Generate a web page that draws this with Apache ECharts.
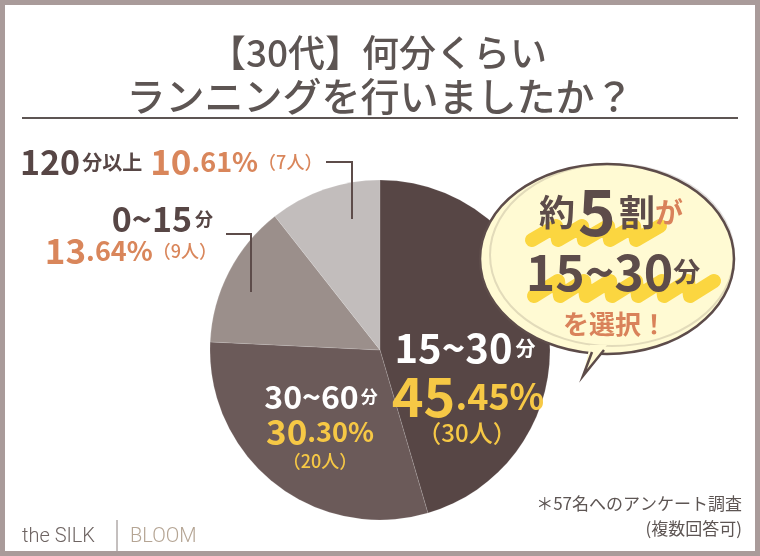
<!DOCTYPE html>
<html><head><meta charset="utf-8">
<script src="https://cdn.jsdelivr.net/npm/echarts@6/dist/echarts.min.js"></script>
<style>html,body{margin:0;padding:0;background:#fff}#c{width:760px;height:556px}</style>
</head><body><div id="c"></div>
<script>
const categories = ['15~30分', '30~60分', '0~15分', '120分以上'];
const counts = [30, 20, 9, 7];
const percents = ['45.45', '30.30', '13.64', '10.61'];
const sliceColors = ['#574645', '#6b5a59', '#9b8f8b', '#c2bdbc'];

const F = '"Noto Sans CJK JP", "Noto Sans", sans-serif';
const DARK = '#574645', ORANGE = '#d9865b', YELLOW = '#f6c845', WHITE = '#ffffff';

function splitPct(p){ const i = p.indexOf('.'); return [p.slice(0,i), p.slice(i)]; }

function richText(x, y, text, rich, align, z){
  return {type:'text', x:x, y:y, z:z||20, style:{text:text, rich:rich, align:align||'left', verticalAlign:'middle', font:'700 20px '+F}};
}

const chart = echarts.init(document.getElementById('c'));
const g = [];

// frame
g.push({type:'rect', z:50, shape:{x:2.5,y:2.5,width:755,height:551}, style:{fill:'none', stroke:'#a99b9a', lineWidth:5}});
// title
g.push({type:'text', z:20, x:378, y:53, style:{text:'【30代】何分くらい', font:'500 37px '+F, fill:'#5d5553', align:'center', verticalAlign:'middle'}});
g.push({type:'text', z:20, x:380, y:96, style:{text:'ランニングを行いましたか？', font:'500 39px '+F, fill:'#5d5553', align:'center', verticalAlign:'middle'}});
g.push({type:'line', z:20, shape:{x1:22,y1:118,x2:738,y2:118}, style:{stroke:'#5d5553', lineWidth:2}});

// leader lines
g.push({type:'polyline', z:15, shape:{points:[[326,162],[352,162],[352,219]]}, style:{stroke:'#5d4c4a', lineWidth:2, fill:'none'}});
g.push({type:'polyline', z:15, shape:{points:[[226,234],[251,234],[251,292]]}, style:{stroke:'#5d4c4a', lineWidth:2, fill:'none'}});

// outer labels
const p120 = splitPct(percents[3]);
g.push(richText(20, 162, '{a|120}{b|分以上}{s| }{c|'+p120[0]+'}{d|'+p120[1]+'%}{e|（'+counts[3]+'人）}', {
  a:{font:'700 34px '+F, fill:DARK},
  b:{font:'700 20px '+F, fill:DARK, padding:[0,0,0,2]},
  s:{font:'700 20px '+F, fill:DARK, width:8},
  c:{font:'700 35px '+F, fill:ORANGE},
  d:{font:'700 27px '+F, fill:ORANGE},
  e:{font:'500 18px '+F, fill:ORANGE}
}));
g.push(richText(213, 219, '{a|0~15}{b|分}', {
  a:{font:'700 34px '+F, fill:DARK},
  b:{font:'700 18px '+F, fill:DARK, padding:[0,0,0,3]}
}, 'right'));
const p015 = splitPct(percents[2]);
g.push(richText(217, 251, '{c|'+p015[0]+'}{d|'+p015[1]+'%}{e|（'+counts[2]+'人）}', {
  c:{font:'700 35px '+F, fill:ORANGE},
  d:{font:'700 27px '+F, fill:ORANGE},
  e:{font:'500 18px '+F, fill:ORANGE}
}, 'right'));

// inside labels
const p1530 = splitPct(percents[0]);
g.push(richText(465, 348, '{a|15~30}{b|分}', {a:{font:'700 40px '+F, fill:WHITE}, b:{font:'700 20px '+F, fill:WHITE, padding:[0,0,0,3]}}, 'center'));
g.push(richText(468, 396, '{a|'+p1530[0]+'}{b|'+p1530[1]+'%}', {a:{font:'700 54px '+F, fill:YELLOW}, b:{font:'700 36px '+F, fill:YELLOW}}, 'center'));
g.push(richText(467, 433, '{a|（'+counts[0]+'人）}', {a:{font:'500 24px '+F, fill:YELLOW}}, 'center'));
const p3060 = splitPct(percents[1]);
g.push(richText(321, 397, '{a|30~60}{b|分}', {a:{font:'700 32px '+F, fill:WHITE}, b:{font:'700 17px '+F, fill:WHITE, padding:[0,0,0,2]}}, 'center'));
g.push(richText(320, 432, '{a|'+p3060[0]+'}{b|'+p3060[1]+'%}', {a:{font:'700 35px '+F, fill:YELLOW}, b:{font:'700 27px '+F, fill:YELLOW}}, 'center'));
g.push(richText(320, 461, '{a|（'+counts[1]+'人）}', {a:{font:'500 18px '+F, fill:YELLOW}}, 'center'));

// speech bubble
g.push({type:'ellipse', z:30, shape:{cx:607, cy:259, rx:127, ry:95}, style:{fill:'#fffad3', stroke:'#5d4c4a', lineWidth:2.5}});
g.push({type:'ellipse', z:30, shape:{cx:612, cy:255, rx:122, ry:91}, style:{fill:'none', stroke:'rgba(93,76,74,0.18)', lineWidth:2}});
g.push({type:'polygon', z:31, shape:{points:[[590,345],[583,375],[607,345]]}, style:{fill:'#fffad3'}});
g.push({type:'polyline', z:31, shape:{points:[[592,352],[583,376],[604,350]]}, style:{stroke:'#5d4c4a', lineWidth:2.5, fill:'none'}});
// highlighter strokes
function band(x0, x1, yb, h){
  const pts = [];
  for (let x = x0; x <= x1; x += 26) { pts.push([x, yb]); pts.push([x + 24, yb - h]); }
  return {type:'polyline', z:32, shape:{points:pts}, style:{stroke:'#fbd640', lineWidth:14, fill:'none', lineJoin:'round', lineCap:'round'}};
}
g.push(band(532, 648, 240, 14));
g.push(band(534, 700, 296, 15));
g.push(richText(611, 212, '{a|約}{b|5}{a|割}{c|が}', {
  a:{font:'700 36px '+F, fill:'#5d4c4a'},
  b:{font:'700 64px '+F, fill:'#5d4c4a', padding:[0,3,0,3]},
  c:{font:'700 28px '+F, fill:'#d9825a'}
}, 'center', 33));
g.push(richText(613, 272, '{a|15~30}{b|分}', {
  a:{font:'700 50px '+F, fill:'#5d4c4a'},
  b:{font:'700 27px '+F, fill:'#5d4c4a'}
}, 'center', 33));
g.push(richText(615, 324, '{a|を選択！}', {a:{font:'700 26px '+F, fill:'#d9825a'}}, 'center', 33));

// footer
g.push({type:'text', x:742, y:504, z:20, style:{text:'＊57名へのアンケート調査', font:'400 17px '+F, fill:'#5d5553', align:'right', verticalAlign:'middle'}});
g.push({type:'text', x:742, y:529, z:20, style:{text:'(複数回答可)', font:'400 17px '+F, fill:'#5d5553', align:'right', verticalAlign:'middle'}});
g.push({type:'text', x:22, y:537, z:20, style:{text:'the SILK', font:'300 20px Roboto, sans-serif', fill:'#6e6462', align:'left', verticalAlign:'middle'}});
g.push({type:'line', z:20, shape:{x1:117,y1:520,x2:117,y2:552}, style:{stroke:'#8a807e', lineWidth:1}});
g.push({type:'text', x:130, y:537, z:20, style:{text:'BLOOM', font:'300 20px Roboto, sans-serif', fill:'#b5a594', align:'left', verticalAlign:'middle'}});

chart.setOption({
  animation:false,
  backgroundColor:'#ffffff',
  series:[{
    type:'pie',
    center:[380, 350],
    radius:[0, 170],
    startAngle:90,
    clockwise:true,
    label:{show:false},
    labelLine:{show:false},
    emphasis:{disabled:true},
    itemStyle:{borderColor:'rgba(255,255,255,0.12)', borderWidth:1},
    data:categories.map(function(c,i){ return {name:c, value:counts[i], itemStyle:{color:sliceColors[i]}}; })
  }],
  graphic:g
});
</script></body></html>
